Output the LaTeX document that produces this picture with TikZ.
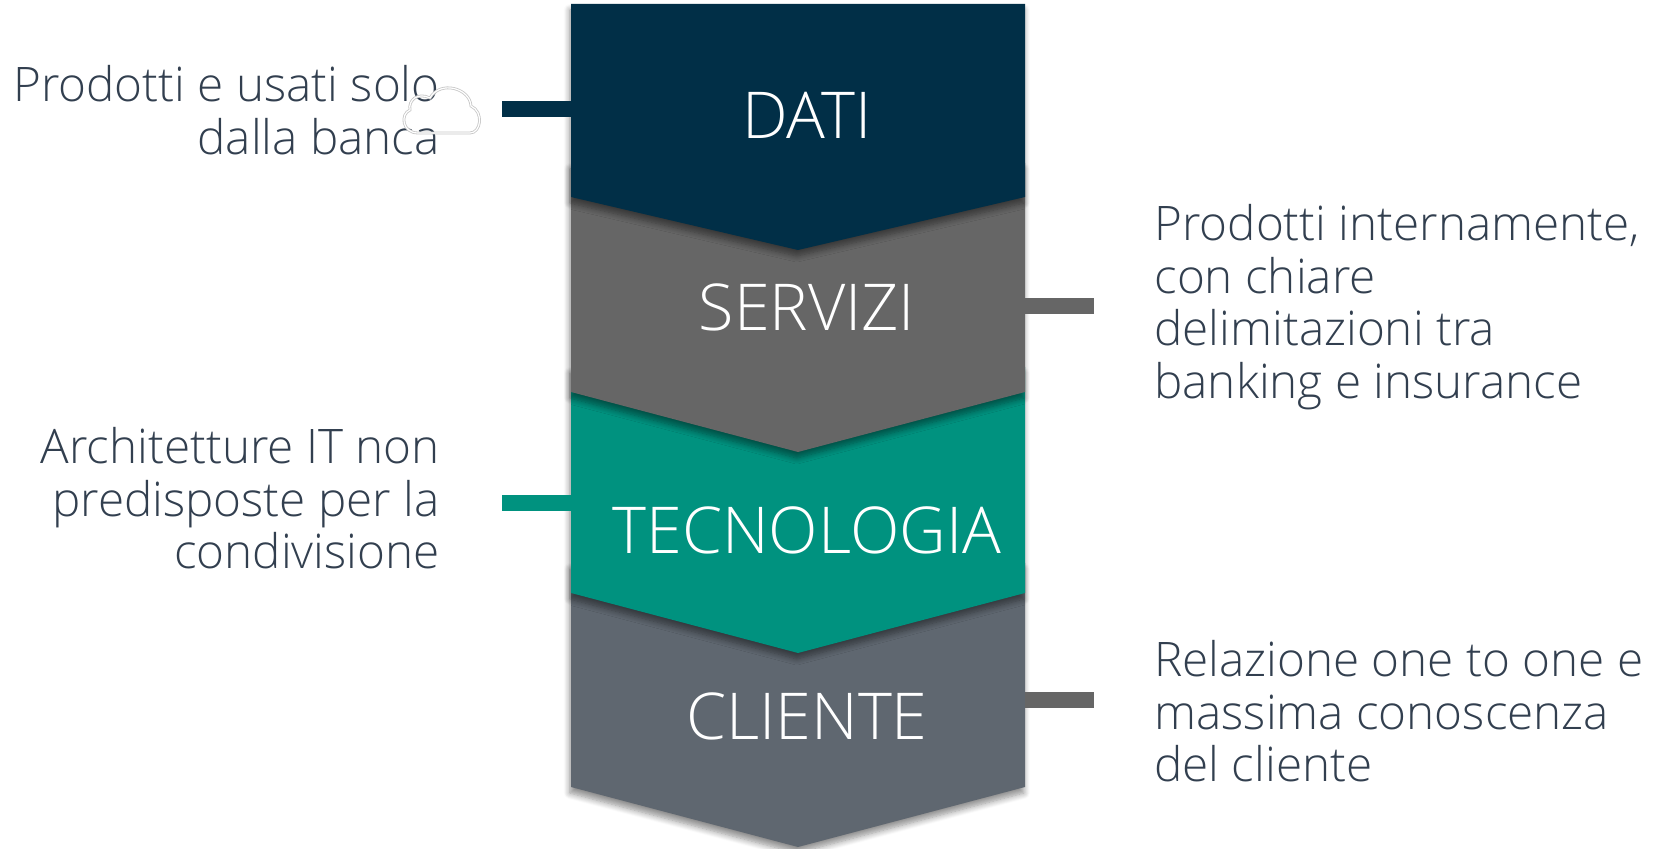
\documentclass[tikz,border=0pt]{standalone}
\usepackage{fontspec}
\setmainfont{Open Sans Light}
\usetikzlibrary{shadows.blur}
\definecolor{navy}{HTML}{012F47}
\definecolor{srvgray}{HTML}{666666}
\definecolor{tealc}{HTML}{00927F}
\definecolor{slate}{HTML}{5F6770}
\definecolor{txt}{HTML}{323F4F}
\begin{document}
\begin{tikzpicture}[x=0.5pt,y=-0.5pt,
 chev/.style={blur shadow={shadow xshift=-0.6pt,shadow yshift=-3pt,shadow blur steps=8,shadow opacity=45,shadow blur radius=3pt}},
 blk/.style={text=white,font=\fontsize{32.3}{36}\selectfont,inner sep=0pt},
 lbl/.style={text=txt,font=\fontsize{23.8}{26.3}\selectfont,inner sep=0pt},
 bar/.style={line width=8pt}]
\useasboundingbox (0,0) rectangle (1662,849);
% chevron blocks, bottom to top
\fill[slate,chev] (571,563) -- (1025,563) -- (1025,787) -- (798,847) -- (571,787) -- cycle;
\fill[tealc,chev] (571,367) -- (1025,367) -- (1025,593) -- (798,653) -- (571,593) -- cycle;
\fill[srvgray,chev] (571,163) -- (1025,163) -- (1025,392) -- (798,452) -- (571,392) -- cycle;
\fill[navy,chev] (571,4) -- (1025,4) -- (1025,197) -- (798,250) -- (571,197) -- cycle;
% block labels
\node[blk] (dati) at (807,115) {DATI};
\node[blk] (servizi) at (807,307) {SERVIZI};
\node[blk] (tecno) at (807,530) {TECNOLOGIA};
\node[blk] (cliente) at (807,716) {CLIENTE};
% side texts
\node[lbl,anchor=north east,align=right] (t1) at (440,65) {Prodotti e usati solo\\dalla banca};
\node[lbl,anchor=north east,align=right] (t3) at (440,427) {Architetture IT non\\predisposte per la\\condivisione};
\node[lbl,anchor=north west,align=left] (t2) at (1154,204) {Prodotti internamente,\\con chiare\\delimitazioni tra\\banking e insurance};
\node[lbl,anchor=north west,align=left] (t4) at (1154,640) {Relazione one to one e\\massima conoscenza\\del cliente};
% connector bars
\coordinate (d1) at (502,109); \coordinate (d2) at (571,109);
\coordinate (c1) at (502,503); \coordinate (c2) at (571,503);
\coordinate (s1) at (1025,306); \coordinate (s2) at (1094,306);
\coordinate (k1) at (1025,700); \coordinate (k2) at (1094,700);
\draw[bar,navy] (d1) -- (d2);
\draw[bar,tealc] (c1) -- (c2);
\draw[bar,srvgray] (s1) -- (s2);
\draw[bar,srvgray] (k1) -- (k2);
% faint cloud outline
\draw[gray!45,line width=0.4pt,double=white,double distance=0.6pt]
 (418,133) -- (470,133) .. controls (481,133) and (484,112) .. (471,106)
 .. controls (470,88) and (440,80) .. (430,98)
 .. controls (418,92) and (408,100) .. (410,110)
 .. controls (400,114) and (402,133) .. (418,133) -- cycle;
\end{tikzpicture}
\end{document}
